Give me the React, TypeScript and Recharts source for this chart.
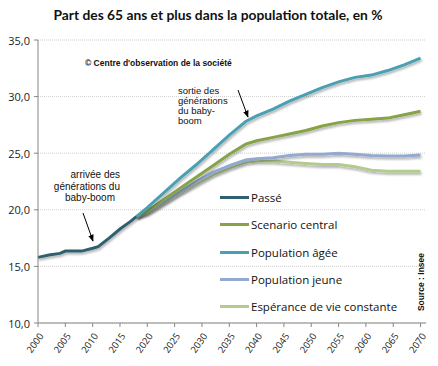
import React from "react";
import { LineChart, Line, XAxis, YAxis, CartesianGrid, Legend } from "recharts";

const pastYears = [2000, 2002, 2004, 2005, 2008, 2010, 2011, 2013, 2015, 2017, 2018];
const passe = [15.8, 16.0, 16.15, 16.35, 16.35, 16.6, 16.75, 17.5, 18.3, 19.0, 19.4];

const projYears = [2018, 2020, 2023, 2026, 2029, 2032, 2035, 2038, 2040, 2043, 2046, 2049, 2052, 2055, 2058, 2061, 2064, 2067, 2070];
const central = [19.4, 19.9, 20.9, 21.9, 22.9, 23.9, 24.9, 25.8, 26.1, 26.4, 26.7, 27.0, 27.4, 27.7, 27.9, 28.0, 28.1, 28.4, 28.7];
const agee = [19.4, 20.2, 21.5, 22.8, 24.0, 25.3, 26.6, 27.8, 28.3, 28.9, 29.6, 30.2, 30.8, 31.3, 31.7, 31.9, 32.3, 32.8, 33.4];
const jeune = [19.4, 19.8, 20.7, 21.6, 22.5, 23.3, 23.9, 24.4, 24.5, 24.6, 24.8, 24.9, 24.9, 25.0, 24.9, 24.8, 24.75, 24.75, 24.85];
const esperance = [19.4, 19.7, 20.6, 21.5, 22.3, 23.1, 23.7, 24.2, 24.3, 24.3, 24.2, 24.1, 24.0, 24.0, 23.8, 23.5, 23.4, 23.4, 23.4];

const xTicks = [2000, 2005, 2010, 2015, 2020, 2025, 2030, 2035, 2040, 2045, 2050, 2055, 2060, 2065, 2070];
const yTicks = [10, 15, 20, 25, 30, 35];

const seriesNames = ["Passé", "Scenario central", "Population âgée", "Population jeune", "Espérance de vie constante"];
const seriesColors = ["#2F6170", "#86A446", "#4AA0B3", "#93A9CF", "#B3CB8F"];

type Row = { year: number; [k: string]: number | undefined };

function buildData(): Row[] {
  const map = new Map<number, Row>();
  const get = (y: number) => {
    if (!map.has(y)) map.set(y, { year: y });
    return map.get(y)!;
  };
  pastYears.forEach((y, i) => (get(y).passe = passe[i]));
  projYears.forEach((y, i) => {
    const r = get(y);
    r.central = central[i];
    r.agee = agee[i];
    r.jeune = jeune[i];
    r.esperance = esperance[i];
  });
  return Array.from(map.values()).sort((a, b) => a.year - b.year);
}
const data = buildData();

const FONT = "'Open Sans', 'Liberation Sans', sans-serif";
const ARIAL = "'Liberation Sans', Arial, sans-serif";

const XTick = (props: any) => {
  const { x, y, payload } = props;
  const ax = x + 6;
  const ay = y + 7;
  return (
    <text x={ax} y={ay} transform={`rotate(-55, ${ax}, ${ay})`} textAnchor="end" fontSize={9.5} fontFamily={FONT} fill="#222">
      {payload.value}
    </text>
  );
};

const YTick = (props: any) => {
  const { x, y, payload } = props;
  return (
    <text x={x - 2} y={y} textAnchor="end" dominantBaseline="central" fontSize={11} fontFamily={FONT} fill="#222">
      {Number(payload.value).toFixed(1).replace(".", ",")}
    </text>
  );
};

const LegendContent = () => (
  <div style={{ fontFamily: FONT, fontSize: 11.5, color: "#111", width: 210, position: "absolute", left: 0, top: 0 }}>
    {seriesNames.map((n, i) => (
      <div key={n} style={{ display: "flex", alignItems: "center", height: 27.3 }}>
        <div style={{ width: 29, height: 3, background: seriesColors[i], marginRight: 2 }} />
        <span>{n}</span>
      </div>
    ))}
  </div>
);

export default function App() {
  return (
    <div style={{ position: "absolute", left: 0, top: 0, width: 438, height: 366, background: "#fff" }}>
      <svg width={0} height={0} style={{ position: "absolute" }}>
        <defs>
          <filter id="sh" x="-5%" y="-20%" width="110%" height="140%">
            <feDropShadow dx={1} dy={2} stdDeviation={1.2} floodColor="#000" floodOpacity={0.3} />
          </filter>
          <marker id="arr" viewBox="0 0 10 10" refX={9} refY={5} markerWidth={7} markerHeight={7} orient="auto">
            <path d="M0,1 L10,5 L0,9 z" fill="#000" />
          </marker>
        </defs>
      </svg>
      <LineChart width={438} height={366} data={data} margin={{ top: 40, right: 12, bottom: 0, left: 0 }}>
        <CartesianGrid vertical={false} stroke="#CFCFCF" strokeDasharray="1 1" />
        <XAxis
          dataKey="year"
          type="number"
          domain={[2000, 2071]}
          ticks={xTicks}
          interval={0}
          height={43}
          tick={<XTick />}
          axisLine={{ stroke: "#868686" }}
          tickLine={{ stroke: "#868686" }}
          tickSize={4}
        />
        <YAxis
          domain={[10, 35]}
          ticks={yTicks}
          width={38}
          tick={<YTick />}
          axisLine={{ stroke: "#868686" }}
          tickLine={{ stroke: "#868686" }}
          tickSize={4}
          interval={0}
        />
        <Legend
          verticalAlign="top"
          align="left"
          layout="vertical"
          content={<LegendContent />}
          wrapperStyle={{ position: "absolute", left: 220, top: 184, width: 0, height: 0, overflow: "visible" }}
        />
        <Line dataKey="esperance" name={seriesNames[4]} stroke={seriesColors[4]} strokeWidth={3} dot={false} connectNulls isAnimationActive={false} filter="url(#sh)" />
        <Line dataKey="jeune" name={seriesNames[3]} stroke={seriesColors[3]} strokeWidth={3} dot={false} connectNulls isAnimationActive={false} filter="url(#sh)" />
        <Line dataKey="central" name={seriesNames[1]} stroke={seriesColors[1]} strokeWidth={3} dot={false} connectNulls isAnimationActive={false} filter="url(#sh)" />
        <Line dataKey="agee" name={seriesNames[2]} stroke={seriesColors[2]} strokeWidth={3} dot={false} connectNulls isAnimationActive={false} filter="url(#sh)" />
        <Line dataKey="passe" name={seriesNames[0]} stroke={seriesColors[0]} strokeWidth={3} dot={false} connectNulls isAnimationActive={false} filter="url(#sh)" />
      </LineChart>
      <svg width={438} height={366} style={{ position: "absolute", left: 0, top: 0, pointerEvents: "none" }}>
        <text x={218} y={20} textAnchor="middle" fontFamily="Lato, sans-serif" fontWeight="bold" fontSize={13.8} fill="#111">
          Part des 65 ans et plus dans la population totale, en %
        </text>
        <text x={85} y={66} fontFamily={ARIAL} fontWeight="bold" fontSize={8.5} fill="#111">
          © Centre d'observation de la société
        </text>
        <text fontFamily={ARIAL} fontSize={9.5} fill="#111">
          <tspan x={178} y={94}>sortie des</tspan>
          <tspan x={178} y={104}>générations</tspan>
          <tspan x={178} y={114}>du baby-</tspan>
          <tspan x={178} y={124}>boom</tspan>
        </text>
        <text fontFamily={ARIAL} fontSize={10} fill="#111" textAnchor="end">
          <tspan x={120} y={178}>arrivée des</tspan>
          <tspan x={120} y={190}>générations du</tspan>
          <tspan x={115} y={201}>baby-boom</tspan>
        </text>
        <line x1={83} y1={213} x2={93} y2={241} stroke="#000" strokeWidth={1} markerEnd="url(#arr)" />
        <line x1={238} y1={90} x2={248} y2={117} stroke="#000" strokeWidth={1} markerEnd="url(#arr)" />
        <text x={424} y={282} transform="rotate(-90, 424, 282)" textAnchor="middle" fontFamily={ARIAL} fontWeight="bold" fontSize={8.5} fill="#111">
          Source : Insee
        </text>
      </svg>
    </div>
  );
}
